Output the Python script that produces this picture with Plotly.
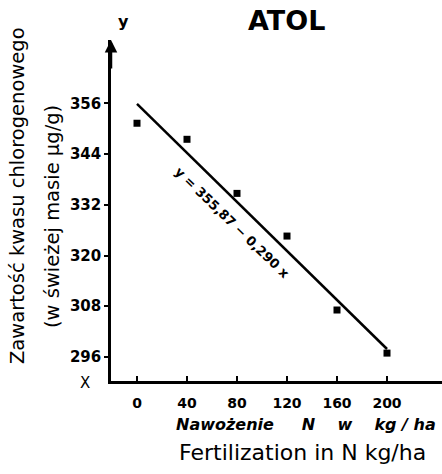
import plotly.graph_objects as go

# Data
dose = [0, 40, 80, 120, 160, 200]
content = [351.3, 347.5, 334.7, 324.6, 307.1, 296.9]
intercept = 355.87
slope = -0.290
line_x = [0, 200]
line_y = [intercept + slope * v for v in line_x]
x_ticks = [0, 40, 80, 120, 160, 200]
y_ticks = [296, 308, 320, 332, 344, 356]

W, H = 442, 474
L, R, T, B = 111, 442, 40, 381

def px(x):
    return (x - L) / (R - L)

def py(y):
    return (B - y) / (B - T)

FONT = "DejaVu Sans"

fig = go.Figure()
fig.add_trace(go.Scatter(x=line_x, y=line_y, mode="lines",
                         line=dict(color="black", width=2.5), showlegend=False))
fig.add_trace(go.Scatter(x=dose, y=content, mode="markers",
                         marker=dict(symbol="square", size=7, color="black"),
                         showlegend=False))

fig.update_layout(
    width=W, height=H,
    margin=dict(l=L, r=W - R, t=T, b=H - B, pad=0),
    paper_bgcolor="white", plot_bgcolor="white",
    font=dict(family=FONT, color="black"),
    xaxis=dict(range=[-20.8, 244], tickvals=x_ticks, ticktext=[str(v) for v in x_ticks],
               showgrid=False, zeroline=False, showline=True, linecolor="black", linewidth=2.5,
               ticks="inside", ticklen=5, tickwidth=1.5, tickcolor="black",
               ticklabelstandoff=7,
               tickfont=dict(family=FONT, size=14, color="black", weight="bold")),
    yaxis=dict(range=[290.3, 371], tickvals=y_ticks, ticktext=[str(v) for v in y_ticks],
               showgrid=False, zeroline=False, showline=True, linecolor="black", linewidth=2.5,
               ticks="outside", ticklen=4, tickwidth=1.5, tickcolor="black",
               tickfont=dict(family=FONT, size=15, color="black", weight="bold")),
)

def A(x, y, text, **kw):
    d = dict(xref="paper", yref="paper", x=px(x), y=py(y), text=text, showarrow=False,
             xanchor="center", yanchor="middle")
    d.update(kw)
    return d

ann = []
# arrow on y axis
ann.append(dict(xref="paper", yref="paper", x=0, y=1.0, ax=0, ay=30, text="",
                showarrow=True, arrowhead=2, arrowsize=1, arrowwidth=2.5, arrowcolor="black"))
ann.append(A(123, 21, "y", font=dict(size=16, weight="bold", color="black")))
ann.append(A(85, 383, "X", font=dict(size=15, color="black")))
ann.append(A(286, 20, "ATOL", font=dict(size=27, weight="bold", color="black")))
ann.append(A(17, 196, "Zawartość kwasu chlorogenowego", textangle=-90,
             font=dict(size=19.5, color="black")))
ann.append(A(52, 217, "(w świeżej masie μg/g)", textangle=-90,
             font=dict(size=19.5, color="black")))
ann.append(A(306, 425, "Nawożenie     N    w    kg / ha",
             font=dict(size=16, weight="bold", style="italic", color="black")))
ann.append(A(302, 452, "Fertilization in N kg/ha", font=dict(size=22, color="black")))
ann.append(dict(xref="x", yref="y", x=76, y=327.9, xanchor="center", yanchor="middle",
                text="y = 355,87 − 0,290 x", textangle=44, showarrow=False,
                font=dict(size=13, weight="bold", color="black")))
fig.update_layout(annotations=ann)

fig.write_html("out.html")
